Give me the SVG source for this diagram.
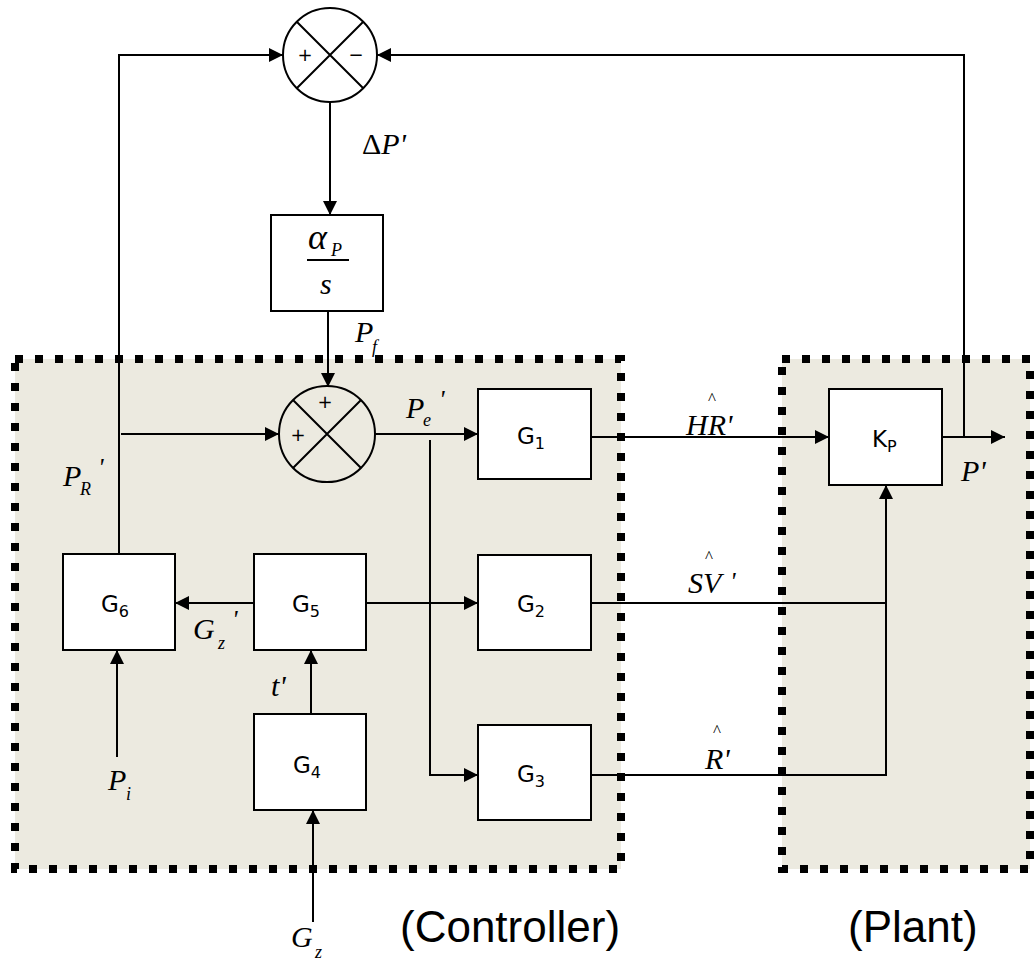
<svg xmlns="http://www.w3.org/2000/svg" width="1034" height="964" viewBox="0 0 1034 964">
<defs>
<marker id="ah" viewBox="0 0 14 14" refX="14" refY="7" markerWidth="14" markerHeight="14" markerUnits="userSpaceOnUse" orient="auto"><path d="M0,0 L14,7 L0,14 z" fill="#000"/></marker>
<style>
.region{fill:#ECEAE0;stroke:#000;stroke-width:8;stroke-dasharray:8 12}
.blk{fill:#fff;stroke:#000;stroke-width:2}
.sum{stroke:#000;stroke-width:2}
.ln{fill:none;stroke:#000;stroke-width:2}
.arr{fill:none;stroke:#000;stroke-width:2;marker-end:url(#ah)}
.bl{font-family:"DejaVu Sans","Liberation Sans",sans-serif;font-size:23px;fill:#000}
.sb{font-size:16px}
.m{font-family:"Liberation Serif","DejaVu Serif",serif;font-style:italic;font-size:30px;fill:#000}
.ms{font-family:"Liberation Serif","DejaVu Serif",serif;font-style:italic;font-size:18px;fill:#000}
.pr{font-family:"Liberation Serif","DejaVu Serif",serif;font-style:italic;font-size:26px;fill:#000}
.hat{font-family:"Liberation Serif","DejaVu Serif",serif;font-size:17px;fill:#000}
.sg{font-family:"DejaVu Sans","Liberation Sans",sans-serif;font-size:18px;fill:#000}
.cap{font-family:"Liberation Sans","Open Sans",sans-serif;font-size:44px;fill:#000}
</style>
</defs>
<rect width="1034" height="964" fill="#fff"/>
<g id="controller-region"><rect class="region" x="15" y="359" width="606" height="510"/></g>
<g id="plant-region"><rect class="region" x="782" y="359" width="248" height="510"/></g>

<g id="connectors">
<path class="arr" d="M119,554 V55 H283"/>
<path class="arr" d="M964,437 V55 H377"/>
<path class="arr" d="M330,102 V215"/>
<path class="arr" d="M328,311 V387"/>
<path class="arr" d="M121,434 H279"/>
<path class="arr" d="M375,434 H478"/>
<path class="arr" d="M430,440 V775 H478"/>
<path class="arr" d="M591,437 H829"/>
<path class="arr" d="M942,437 H1005"/>
<path class="ln" d="M592,603 H886"/>
<path class="arr" d="M592,775 H886 V485"/>
<path class="arr" d="M254,603 H175"/>
<path class="arr" d="M366,603 H478"/>
<path class="arr" d="M117,757 V650"/>
<path class="arr" d="M311,714 V650"/>
<path class="arr" d="M313,922 V810"/>
</g>

<g id="sum1">
<circle class="sum" cx="330" cy="55" r="47" fill="#fff"/>
<path class="ln" d="M297,22 L363,88 M363,22 L297,88"/>
<text class="sg" x="305" y="61" text-anchor="middle">+</text>
<text class="sg" x="356" y="61" text-anchor="middle">−</text>
</g>

<g id="integrator">
<rect class="blk" x="271" y="215" width="112" height="96"/>
<text class="m" x="308" y="249" style="font-size:36px">α</text>
<text class="ms" x="331" y="256">P</text>
<path class="ln" d="M307,260 H349"/>
<text class="m" x="320" y="294">s</text>
</g>

<g id="sum2">
<circle class="sum" cx="327" cy="434" r="48" fill="#ECEAE0"/>
<path class="ln" d="M293,400 L361,468 M361,400 L293,468"/>
<text class="sg" x="325" y="408" text-anchor="middle">+</text>
<text class="sg" x="298" y="441" text-anchor="middle">+</text>
</g>

<g id="G1"><rect class="blk" x="478" y="389" width="113" height="90"/><text class="bl" x="517" y="444">G<tspan class="sb" dy="5">1</tspan></text></g>
<g id="G2"><rect class="blk" x="478" y="555" width="113" height="95"/><text class="bl" x="517" y="612">G<tspan class="sb" dy="5">2</tspan></text></g>
<g id="G3"><rect class="blk" x="478" y="725" width="113" height="95"/><text class="bl" x="517" y="782">G<tspan class="sb" dy="5">3</tspan></text></g>
<g id="G4"><rect class="blk" x="254" y="714" width="112" height="96"/><text class="bl" x="293" y="773">G<tspan class="sb" dy="5">4</tspan></text></g>
<g id="G5"><rect class="blk" x="254" y="554" width="112" height="96"/><text class="bl" x="292" y="612">G<tspan class="sb" dy="5">5</tspan></text></g>
<g id="G6"><rect class="blk" x="63" y="554" width="112" height="96"/><text class="bl" x="101" y="612">G<tspan class="sb" dy="5">6</tspan></text></g>
<g id="KP"><rect class="blk" x="829" y="389" width="113" height="96"/><text class="bl" x="872" y="447">K<tspan class="sb" dy="5">P</tspan></text></g>

<g id="labels">
<text class="m" x="362" y="154"><tspan style="font-style:normal">Δ</tspan>P'</text>
<text class="m" x="355" y="342">P</text><text class="ms" x="372" y="353">f</text>
<text class="m" x="63" y="486">P</text><text class="ms" x="80" y="495">R</text><text class="pr" x="98" y="476">'</text>
<text class="m" x="406" y="418">P</text><text class="ms" x="423" y="426">e</text><text class="pr" x="439" y="408">'</text>
<text class="hat" x="712" y="404" text-anchor="middle">^</text><text class="m" x="686" y="435">HR'</text>
<text class="hat" x="709" y="562" text-anchor="middle">^</text><text class="m" x="688" y="593">SV</text><text class="pr" x="730" y="590">'</text>
<text class="hat" x="717" y="736" text-anchor="middle">^</text><text class="m" x="705" y="769">R'</text>
<text class="m" x="961" y="481">P'</text>
<text class="m" x="193" y="639">G</text><text class="ms" x="218" y="649">z</text><text class="pr" x="232" y="628">'</text>
<text class="m" x="271" y="696">t'</text>
<text class="m" x="108" y="790">P</text><text class="ms" x="126" y="800">i</text>
<text class="m" x="291" y="947">G</text><text class="ms" x="315" y="958">z</text>
<text class="cap" x="400" y="942">(Controller)</text>
<text class="cap" x="848" y="942">(Plant)</text>
</g>
</svg>
